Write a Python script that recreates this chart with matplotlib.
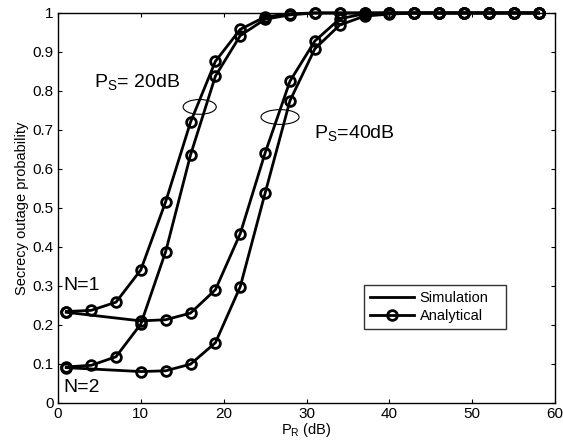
import matplotlib
matplotlib.use("Agg")
import matplotlib.pyplot as plt
from matplotlib.lines import Line2D
from matplotlib.patches import Ellipse
from matplotlib.ticker import FuncFormatter

plt.rcParams.update({
    "font.family": ["Liberation Sans", "DejaVu Sans"],
    "mathtext.fontset": "custom",
    "mathtext.rm": "Liberation Sans",
    "mathtext.it": "Liberation Sans",
})

# ---- data -----------------------------------------------------------------
x_ps20 = [1, 4, 7, 10, 13, 16, 19, 22, 25, 28, 31, 34, 37, 40, 43, 46, 49, 52, 55, 58]
ps20_n1 = [0.234, 0.237, 0.258, 0.341, 0.516, 0.720, 0.876, 0.958, 0.990, 0.998,
           1.0, 1.0, 1.0, 1.0, 1.0, 1.0, 1.0, 1.0, 1.0, 1.0]
ps20_n2 = [0.092, 0.096, 0.118, 0.202, 0.388, 0.636, 0.838, 0.942, 0.984, 0.995,
           1.0, 1.0, 1.0, 1.0, 1.0, 1.0, 1.0, 1.0, 1.0, 1.0]

x_ps40 = [1, 10, 13, 16, 19, 22, 25, 28, 31, 34, 37, 40, 43, 46, 49, 52, 55, 58]
ps40_n1 = [0.232, 0.210, 0.213, 0.230, 0.290, 0.434, 0.641, 0.825, 0.928, 0.985,
           0.998, 1.0, 1.0, 1.0, 1.0, 1.0, 1.0, 1.0]
ps40_n2 = [0.090, 0.080, 0.082, 0.099, 0.154, 0.298, 0.538, 0.775, 0.908, 0.969,
           0.992, 0.997, 1.0, 1.0, 1.0, 1.0, 1.0, 1.0]

legend_labels = ["Simulation", "Analytical"]

LW, MS, MEW = 2.0, 7.0, 2.0

fig = plt.figure(figsize=(5.63, 4.47), dpi=100)
ax = fig.add_axes([0.103, 0.099, 0.883, 0.872])

for xs, ys in ((x_ps20, ps20_n1), (x_ps20, ps20_n2),
               (x_ps40, ps40_n1), (x_ps40, ps40_n2)):
    ax.plot(xs, ys, "-", color="k", lw=LW, marker="o", ms=MS, mew=MEW,
            mfc="none", mec="k", clip_on=False, zorder=3)

# ellipses grouping the curve pairs
ax.add_patch(Ellipse((17.1, 0.759), 4.0, 0.038, fill=False, edgecolor="k", lw=0.8))
ax.add_patch(Ellipse((26.8, 0.733), 4.6, 0.038, fill=False, edgecolor="k", lw=0.8))

ax.text(4.4, 0.823, r"P$_\mathregular{S}$= 20dB", fontsize=14, va="center", ha="left")
ax.text(30.9, 0.692, r"P$_\mathregular{S}$=40dB", fontsize=14, va="center", ha="left")
ax.text(0.6, 0.300, "N=1", fontsize=14, va="center", ha="left")
ax.text(0.6, 0.040, "N=2", fontsize=14, va="center", ha="left")

ax.set_xlim(0, 60)
ax.set_ylim(0, 1)
ax.set_xticks(range(0, 61, 10))
ax.set_yticks([i / 10 for i in range(11)])
ax.yaxis.set_major_formatter(FuncFormatter(lambda v, p: f"{v:g}"))
ax.tick_params(direction="in", top=True, right=True, length=3, width=0.8,
               labelsize=11, pad=3)
for s in ax.spines.values():
    s.set_linewidth(1.0)

ax.set_xlabel(r"P$_\mathregular{R}$ (dB)", fontsize=10.5, labelpad=0)
ax.set_ylabel("Secrecy outage probability", fontsize=10.5, labelpad=3)

handles = [Line2D([], [], color="k", lw=LW),
           Line2D([], [], color="k", lw=LW, marker="o", ms=MS, mew=MEW, mfc="none")]
leg = ax.legend(handles, legend_labels, loc="lower left",
                bbox_to_anchor=(0.616, 0.189, 0.285, 0.123), mode="expand",
                fontsize=10.5, frameon=True, fancybox=False, borderaxespad=0,
                handlelength=3.0, handletextpad=0.4, borderpad=0.4,
                labelspacing=0.3)
leg.get_frame().set_edgecolor("k")
leg.get_frame().set_linewidth(1.0)

fig.savefig("out.png", dpi=100)
